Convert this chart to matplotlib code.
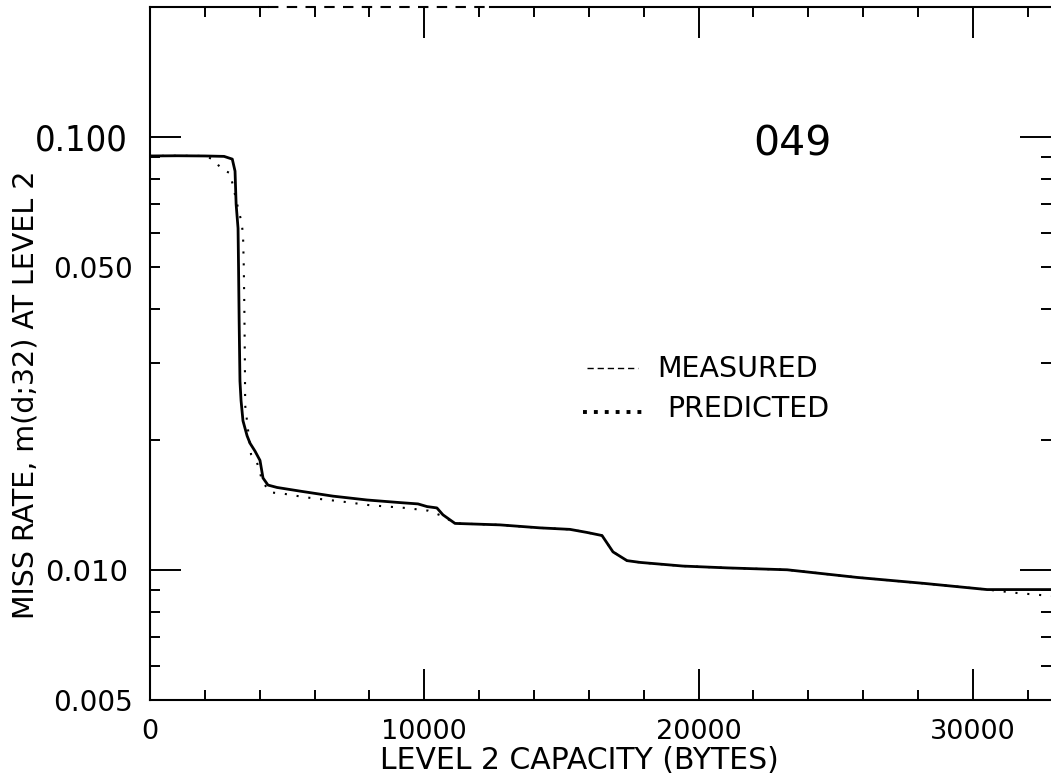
import matplotlib
matplotlib.use("Agg")
import matplotlib.pyplot as plt
from matplotlib.ticker import FixedLocator, FixedFormatter

# ---- data ----
measured_x = [0, 1000, 2000, 2700, 3000, 3100, 3140, 3210, 3230, 3250, 3280, 3320,
              3390, 3540, 3650, 3830, 4010, 4120, 4300, 4630, 5470, 6670, 7910,
              9110, 9770, 10100, 10460, 10680, 11120, 12760, 14220, 15310, 15930,
              16480, 16880, 17390, 17870, 19430, 21070, 23230, 25790, 28230,
              30520, 31500, 32850]
measured_y = [0.0905, 0.0906, 0.0905, 0.0903, 0.0890, 0.0835, 0.0700, 0.0616,
              0.0490, 0.0376, 0.0273, 0.0246, 0.0221, 0.0204, 0.0196, 0.0188,
              0.0179, 0.0163, 0.0157, 0.0155, 0.0152, 0.0148, 0.0145, 0.0143,
              0.0142, 0.0140, 0.0139, 0.0134, 0.0128, 0.0127, 0.0125, 0.0124,
              0.0122, 0.0120, 0.0110, 0.0105, 0.0104, 0.0102, 0.0101, 0.0100,
              0.0096, 0.0093, 0.0090, 0.0090, 0.0090]

predicted_x = [0, 1000, 2000, 2370, 2590, 2920, 3210, 3320, 3390, 3420, 3440,
               3460, 3470, 3573, 3683, 3901, 4100, 4375, 4850, 5690, 6930, 8020,
               9300, 10140, 10680, 11120, 12760, 14220, 15310, 15930, 16480,
               16880, 17390, 17870, 19430, 21070, 23230, 25790, 28230, 30520,
               31500, 32850]
predicted_y = [0.0905, 0.0906, 0.0905, 0.0885, 0.0844, 0.0826, 0.0686, 0.0643,
               0.0600, 0.0500, 0.0400, 0.0300, 0.0240, 0.0211, 0.0185, 0.0177,
               0.0160, 0.0151, 0.0150, 0.0147, 0.0144, 0.0141, 0.0139, 0.0137,
               0.0133, 0.0128, 0.0127, 0.0125, 0.0124, 0.0122, 0.0120, 0.0110,
               0.0105, 0.0104, 0.0102, 0.0101, 0.0100, 0.0096, 0.0093, 0.0090,
               0.00885, 0.0087]

x_major = [0, 10000, 20000, 30000]
x_major_labels = ["0", "10000", "20000", "30000"]
x_minor = [2000, 4000, 6000, 8000, 12000, 14000, 16000, 18000, 22000, 24000,
           26000, 28000, 32000]
y_major = [0.01, 0.1]
y_major_labels = ["0.010", "0.100"]
y_minor = [0.005, 0.006, 0.007, 0.008, 0.009, 0.02, 0.03, 0.04, 0.05, 0.06,
           0.07, 0.08, 0.09, 0.2]
y_minor_labels = ["0.005", "", "", "", "", "", "", "", "0.050", "", "", "", "", ""]

plt.rcParams['font.family'] = ['DejaVu Sans']

fig = plt.figure(figsize=(10.51, 7.78), dpi=100)
ax = fig.add_axes([150 / 1051, 78 / 778, 901 / 1051, 693 / 778])

ax.plot(measured_x, measured_y, color='black', lw=2.0, solid_joinstyle='round')
ax.plot(predicted_x, predicted_y, color='black', lw=1.5,
        linestyle=(0, (1, 4.7)), dash_capstyle='butt')

ax.set_yscale('log')
ax.set_xlim(0, 32850)
ax.set_ylim(0.005, 0.2)

ax.xaxis.set_major_locator(FixedLocator(x_major))
ax.xaxis.set_major_formatter(FixedFormatter(x_major_labels))
ax.xaxis.set_minor_locator(FixedLocator(x_minor))
ax.yaxis.set_major_locator(FixedLocator(y_major))
ax.yaxis.set_major_formatter(FixedFormatter(y_major_labels))
ax.yaxis.set_minor_locator(FixedLocator(y_minor))
ax.yaxis.set_minor_formatter(FixedFormatter(y_minor_labels))

ax.tick_params(which='major', direction='in', length=22, width=1.4,
               top=True, right=True, colors='black')
ax.tick_params(which='minor', direction='in', length=7.5, width=1.4,
               top=True, right=True)
ax.tick_params(axis='x', which='major', labelsize=19.5, pad=14)
ax.tick_params(axis='y', which='major', labelsize=21, pad=16)
ax.tick_params(axis='y', which='minor', labelsize=20, pad=12)

for lbl in ax.get_yticklabels():
    if lbl.get_text() == "0.100":
        lbl.set_fontsize(26)
        lbl.set_fontstretch('condensed')

for s in ['left', 'bottom']:
    ax.spines[s].set_linewidth(1.5)
ax.spines['right'].set_visible(False)
ax.spines['top'].set_visible(False)
# top frame: solid, dashed gap, solid
ax.plot([0, 0.131], [1, 1], transform=ax.transAxes, color='black', lw=1.5, clip_on=False)
ax.plot([0.131, 0.377], [1, 1], transform=ax.transAxes, color='black', lw=1.5,
        linestyle=(0, (5, 4)), clip_on=False)
ax.plot([0.377, 1.0], [1, 1], transform=ax.transAxes, color='black', lw=1.5, clip_on=False)

ax.set_xlabel("LEVEL 2 CAPACITY (BYTES)", fontsize=21.5, va='center')
ax.xaxis.set_label_coords(0.477, -0.088)
ax.set_ylabel("MISS RATE, m(d;32) AT LEVEL 2", fontsize=20.5, va='center')
ax.yaxis.set_label_coords(-0.1387, 0.440)

ax.text(0.669, 0.7864, "049", transform=ax.transAxes, fontsize=29.5,
        ha='left', va='baseline')

# legend
ax.plot([0.485, 0.5416], [0.479, 0.479], transform=ax.transAxes, color='black',
        lw=1.0, linestyle=(0, (4.5, 2.8)))
ax.text(0.5627, 0.4661, "MEASURED", transform=ax.transAxes, fontsize=20.5,
        ha='left', va='baseline')
ax.plot([0.4806, 0.5527], [0.4156, 0.4156], transform=ax.transAxes, color='black',
        lw=2.8, linestyle=(0, (1, 1.8)), dash_capstyle='butt')
ax.text(0.5738, 0.4084, "PREDICTED", transform=ax.transAxes, fontsize=20.5,
        ha='left', va='baseline')

fig.savefig("out.png", dpi=100)
